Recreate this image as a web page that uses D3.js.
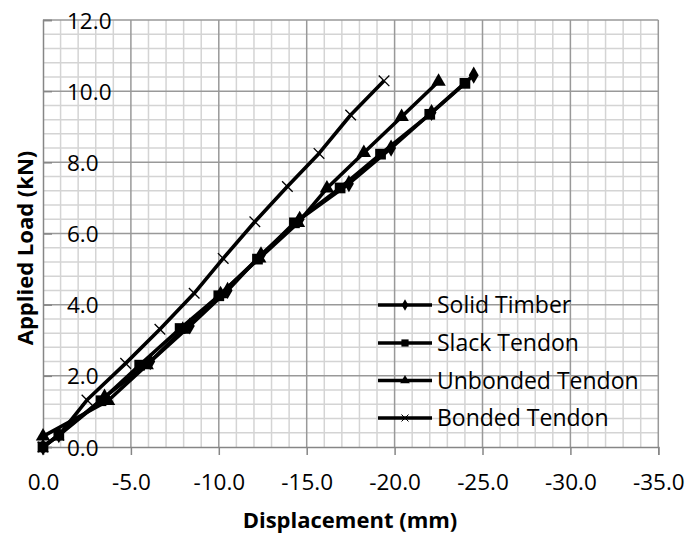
<!DOCTYPE html>
<html><head><meta charset="utf-8">
<script src="https://cdn.jsdelivr.net/npm/d3@7"></script>
<style>body{margin:0;background:#fff}svg{display:block}text{font-family:"Open Sans",sans-serif}</style>
</head><body><svg id="c" width="689" height="535"></svg>
<script>
const seriesNames = ["Solid Timber", "Slack Tendon", "Unbonded Tendon", "Bonded Tendon"];
const solidDisp = [0, -0.9, -3.5, -6.1, -8.35, -10.5, -12.4, -14.6, -17.4, -19.8, -22.1, -24.5];
const solidLoad = [0, 0.35, 1.4, 2.4, 3.4, 4.4, 5.4, 6.4, 7.4, 8.4, 9.4, 10.45];
const slackDisp = [0, -0.9, -3.3, -5.5, -7.8, -10.0, -12.2, -14.3, -16.9, -19.2, -22.0, -24.0];
const slackLoad = [0, 0.33, 1.3, 2.3, 3.33, 4.25, 5.28, 6.3, 7.28, 8.23, 9.35, 10.22];
const unbondedDisp = [0, -3.7, -5.9, -7.95, -10.1, -12.3, -14.5, -16.15, -18.25, -20.4, -22.5];
const unbondedLoad = [0.3, 1.3, 2.3, 3.3, 4.3, 5.3, 6.3, 7.27, 8.27, 9.28, 10.27];
const bondedDisp = [0, -0.9, -2.5, -4.7, -6.65, -8.6, -10.25, -12.05, -13.9, -15.7, -17.5, -19.4];
const bondedLoad = [0, 0.33, 1.32, 2.35, 3.31, 4.32, 5.30, 6.33, 7.32, 8.25, 9.33, 10.29];
const xTicks = [0, -5, -10, -15, -20, -25, -30, -35];
const yTicks = [0, 2, 4, 6, 8, 10, 12];
const xTitle = "Displacement (mm)";
const yTitle = "Applied Load (kN)";

const svg = d3.select("#c");
const L = 43, R = 658.3, T = 20, B = 447;
const x = d3.scaleLinear().domain([0, -35]).range([L, R]);
const y = d3.scaleLinear().domain([0, 12]).range([B, T]);

const g = svg.append("g");
// minor grid
g.selectAll(".vx").data(d3.range(0, -36, -1).filter(v => v % 5 !== 0)).join("line")
  .attr("x1", d => x(d)).attr("x2", d => x(d)).attr("y1", T).attr("y2", B)
  .attr("stroke", "#d4d4d4").attr("stroke-width", 1.5);
g.selectAll(".hy").data(d3.range(1, 30).map(i => i * 0.4).filter(v => Math.abs(v / 2 - Math.round(v / 2)) > 1e-6)).join("line")
  .attr("x1", L).attr("x2", R).attr("y1", d => y(d)).attr("y2", d => y(d))
  .attr("stroke", "#d4d4d4").attr("stroke-width", 1.5);
// major grid
g.selectAll(".mx").data(xTicks.slice(1)).join("line")
  .attr("x1", d => x(d)).attr("x2", d => x(d)).attr("y1", T).attr("y2", B)
  .attr("stroke", "#999").attr("stroke-width", 1.5);
g.selectAll(".my").data(yTicks.slice(1)).join("line")
  .attr("x1", L).attr("x2", R).attr("y1", d => y(d)).attr("y2", d => y(d))
  .attr("stroke", "#999").attr("stroke-width", 1.5);

// axes
const xAxis = d3.axisBottom(x).tickValues(xTicks).tickSize(8);
const xg = svg.append("g").attr("transform", `translate(0,${B})`).call(xAxis);
xg.select(".domain").attr("stroke", "#868686").attr("stroke-width", 1.5);
xg.selectAll(".tick line").attr("stroke", "#868686").attr("stroke-width", 1.5);
xg.selectAll(".tick text").attr("font-size", 22.5).attr("fill", "#000").attr("y", 43).attr("dy", 0)
  .text(d => d === 0 ? "0.0" : "-" + Math.abs(d).toFixed(1));

const yAxis = d3.axisRight(y).tickValues(yTicks).tickSize(9).tickFormat(d => d.toFixed(1));
const yg = svg.append("g").attr("transform", `translate(${L},0)`).call(yAxis);
yg.select(".domain").attr("stroke", "#868686").attr("stroke-width", 1.5);
yg.selectAll(".tick line").attr("stroke", "#868686").attr("stroke-width", 1.5);
yg.selectAll(".tick text").attr("font-size", 22.5).attr("fill", "#000").attr("x", 24).attr("dy", "0.36em").attr("text-anchor", "start");

// series
const series = [
  {name: seriesNames[0], d: solidDisp, l: solidLoad, sym: d3.symbolDiamond, size: 85, type: "fill"},
  {name: seriesNames[1], d: slackDisp, l: slackLoad, sym: d3.symbolSquare, size: 115, type: "fill"},
  {name: seriesNames[2], d: unbondedDisp, l: unbondedLoad, sym: d3.symbolTriangle, size: 90, type: "fill"},
  {name: seriesNames[3], d: bondedDisp, l: bondedLoad, sym: d3.symbolTimes, size: 75, type: "stroke"}
];
const line = d3.line().x(p => x(p[0])).y(p => y(p[1]));
series.forEach(s => {
  const pts = s.d.map((v, i) => [v, s.l[i]]);
  svg.append("path").datum(pts).attr("d", line).attr("fill", "none").attr("stroke", "#000").attr("stroke-width", 3.6).attr("stroke-linejoin", "round");
});
series.forEach(s => {
  const pts = s.d.map((v, i) => [v, s.l[i]]);
  svg.append("g").selectAll("path").data(pts).join("path")
    .attr("transform", p => `translate(${x(p[0])},${y(p[1])})`)
    .attr("d", d3.symbol().type(s.sym).size(s.size))
    .attr("fill", s.type === "fill" ? "#000" : "none")
    .attr("stroke", "#000").attr("stroke-width", s.type === "fill" ? 0 : 1.3);
});

// legend
const legY = [305, 343, 380.5, 418];
const lg = svg.append("g");
series.forEach((s, i) => {
  lg.append("line").attr("x1", 378).attr("x2", 432).attr("y1", legY[i]).attr("y2", legY[i]).attr("stroke", "#000").attr("stroke-width", 3.6);
  lg.append("path").attr("transform", `translate(405,${legY[i]})`)
    .attr("d", d3.symbol().type(s.sym).size(s.size * 0.45))
    .attr("fill", s.type === "fill" ? "#000" : "none")
    .attr("stroke", "#000").attr("stroke-width", s.type === "fill" ? 0 : 1);
  lg.append("text").attr("x", 437).attr("y", legY[i]).attr("dy", "0.36em").attr("font-size", 23).text(s.name);
});

// titles
svg.append("text").attr("x", 350).attr("y", 528).attr("text-anchor", "middle").attr("font-size", 22).attr("font-weight", "bold").text(xTitle);
svg.append("text").attr("transform", "translate(33,248) rotate(-90)").attr("text-anchor", "middle").attr("font-size", 22).attr("font-weight", "bold").text(yTitle);
</script></body></html>
